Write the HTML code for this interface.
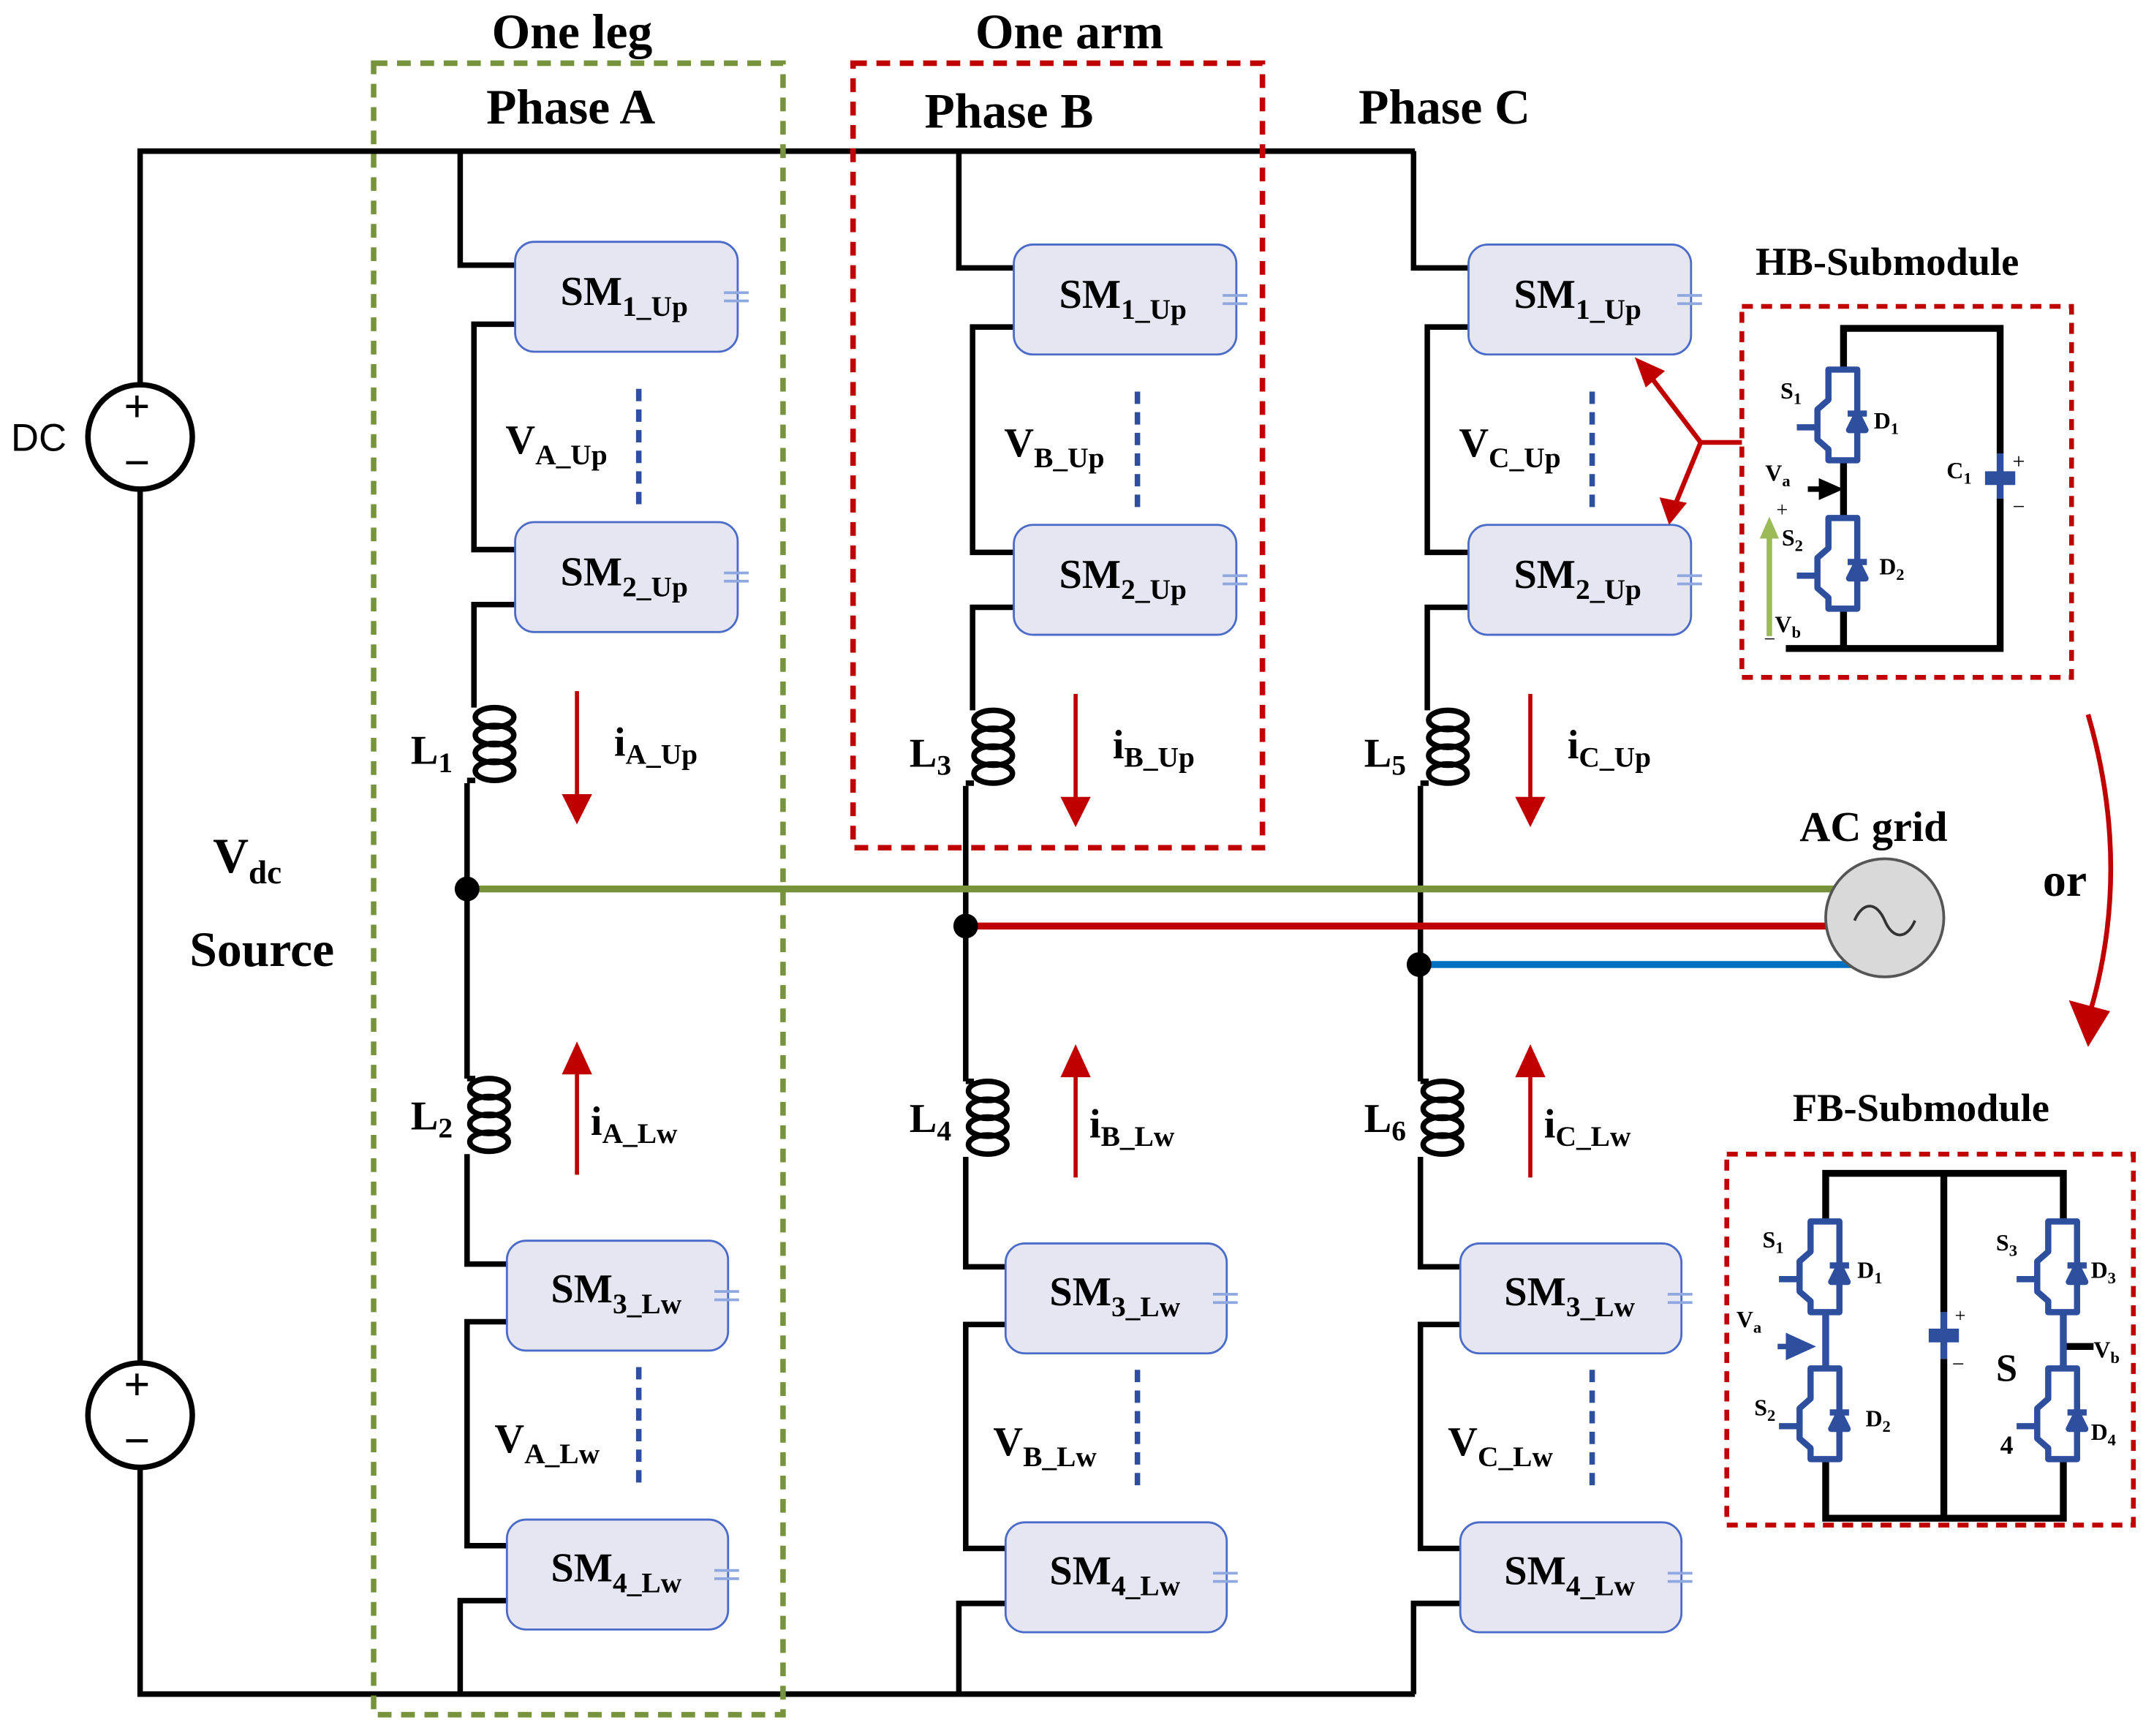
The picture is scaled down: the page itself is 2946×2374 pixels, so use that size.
<!DOCTYPE html>
<html><head><meta charset="utf-8"><style>html,body{margin:0;padding:0;background:#fff}svg{display:block}
text{font-family:"Liberation Serif",serif;font-weight:bold;fill:#000}</style></head><body>
<svg width="2946" height="2374" viewBox="0 0 1568 1263.5" preserveAspectRatio="none" xmlns="http://www.w3.org/2000/svg">
<defs>
<g id="igbt" fill="none" stroke="#2e4f9e" stroke-width="4.5" stroke-linejoin="round">
<path d="M-11,0 H10 V66 H-11 V58 L-19,51 V29 L-11,22 Z"/>
<path d="M-34,42 H-19"/>
<path d="M4,44 L10,32 L16,44 Z M3,32 H17" fill="#2e4f9e"/>
</g>
<g id="sm1">
</g>
</defs>
<rect width="1568" height="1264" fill="#fff"/>
<g stroke="#000" stroke-width="4" fill="none">
<path d="M102,280 V110 H1030 M102,356 V992 M102,1068 V1233 H1030"/>
</g>
<circle cx="102" cy="318" r="38" fill="#fff" stroke="#000" stroke-width="4"/>
<circle cx="102" cy="1030" r="38" fill="#fff" stroke="#000" stroke-width="4"/>
<text x="90" y="307" font-size="34">+</text><text x="90" y="348" font-size="34">−</text>
<text x="90" y="1019" font-size="34">+</text><text x="90" y="1060" font-size="34">−</text>
<text x="8" y="328" font-size="28" style="font-family:'Liberation Sans',sans-serif;font-weight:normal">DC</text>
<text x="155" y="635" font-size="36">V<tspan font-size="24" dy="8">dc</tspan></text>
<text x="138" y="703" font-size="36">Source</text>

<!-- phase groups -->
<g id="phA">
<g stroke="#000" stroke-width="4" fill="none">
<path d="M335,110 V193 H375 M375,236 H345 V400 H375 M375,440 H345 V515 M340,570 V785 M340,840 V920 H369 M369,962 H340 V1125 H369 M369,1165 H335 V1233"/>
<ellipse cx="360" cy="522" rx="14" ry="7"/><ellipse cx="360" cy="535" rx="14" ry="7"/><ellipse cx="360" cy="548" rx="14" ry="7"/><ellipse cx="360" cy="561" rx="14" ry="7"/>
<path d="M346,568 H340"/>
<path d="M340,785 H346"/>
<ellipse cx="356" cy="792" rx="14" ry="7"/><ellipse cx="356" cy="805" rx="14" ry="7"/><ellipse cx="356" cy="818" rx="14" ry="7"/><ellipse cx="356" cy="831" rx="14" ry="7"/>
</g>
<g fill="#e6e6f2" stroke="#4a6bc8" stroke-width="1.5">
<rect x="375" y="176" width="162" height="80" rx="14"/><rect x="375" y="380" width="162" height="80" rx="14"/>
<rect x="369" y="903" width="161" height="80" rx="14"/><rect x="369" y="1106" width="161" height="80" rx="14"/>
</g>
<g stroke="#8fa8e0" stroke-width="2"><path d="M527,213h18M527,219h18M527,417h18M527,423h18M520,940h18M520,946h18M520,1143h18M520,1149h18"/></g>
<g stroke="#2e4f9e" stroke-width="4" stroke-dasharray="9,6"><path d="M465,283V368M465,995V1080"/></g>
<path d="M420,503V582" stroke="#c00000" stroke-width="3"/><path d="M409,578 L420,600 L431,578Z" fill="#c00000"/>
<path d="M420,855V778" stroke="#c00000" stroke-width="3"/><path d="M409,782 L420,758 L431,782Z" fill="#c00000"/>
<text x="408" y="222" font-size="30">SM<tspan font-size="21" dy="8">1_Up</tspan></text>
<text x="408" y="426" font-size="30">SM<tspan font-size="21" dy="8">2_Up</tspan></text>
<text x="401" y="948" font-size="30">SM<tspan font-size="21" dy="8">3_Lw</tspan></text>
<text x="401" y="1151" font-size="30">SM<tspan font-size="21" dy="8">4_Lw</tspan></text>
<text x="368" y="330" font-size="30">V<tspan font-size="21" dy="8">A_Up</tspan></text>
<text x="360" y="1057" font-size="30">V<tspan font-size="21" dy="8">A_Lw</tspan></text>
<text x="447" y="550" font-size="30">i<tspan font-size="21" dy="6">A_Up</tspan></text>
<text x="430" y="826" font-size="30">i<tspan font-size="21" dy="6">A_Lw</tspan></text>
<text x="299" y="556" font-size="30">L<tspan font-size="21" dy="6">1</tspan></text>
<text x="299" y="822" font-size="30">L<tspan font-size="21" dy="6">2</tspan></text>
</g>

<g transform="translate(363,2)">
<g stroke="#000" stroke-width="4" fill="none">
<path d="M335,108 V193 H375 M375,236 H345 V400 H375 M375,440 H345 V515 M340,570 V785 M340,840 V920 H369 M369,962 H340 V1125 H369 M369,1165 H335 V1231"/>
<ellipse cx="360" cy="522" rx="14" ry="7"/><ellipse cx="360" cy="535" rx="14" ry="7"/><ellipse cx="360" cy="548" rx="14" ry="7"/><ellipse cx="360" cy="561" rx="14" ry="7"/>
<path d="M346,568 H340"/><path d="M340,785 H346"/>
<ellipse cx="356" cy="792" rx="14" ry="7"/><ellipse cx="356" cy="805" rx="14" ry="7"/><ellipse cx="356" cy="818" rx="14" ry="7"/><ellipse cx="356" cy="831" rx="14" ry="7"/>
</g>
<g fill="#e6e6f2" stroke="#4a6bc8" stroke-width="1.5">
<rect x="375" y="176" width="162" height="80" rx="14"/><rect x="375" y="380" width="162" height="80" rx="14"/>
<rect x="369" y="903" width="161" height="80" rx="14"/><rect x="369" y="1106" width="161" height="80" rx="14"/>
</g>
<g stroke="#8fa8e0" stroke-width="2"><path d="M527,213h18M527,219h18M527,417h18M527,423h18M520,940h18M520,946h18M520,1143h18M520,1149h18"/></g>
<g stroke="#2e4f9e" stroke-width="4" stroke-dasharray="9,6"><path d="M465,283V368M465,995V1080"/></g>
<path d="M420,503V582" stroke="#c00000" stroke-width="3"/><path d="M409,578 L420,600 L431,578Z" fill="#c00000"/>
<path d="M420,855V778" stroke="#c00000" stroke-width="3"/><path d="M409,782 L420,758 L431,782Z" fill="#c00000"/>
<text x="408" y="222" font-size="30">SM<tspan font-size="21" dy="8">1_Up</tspan></text>
<text x="408" y="426" font-size="30">SM<tspan font-size="21" dy="8">2_Up</tspan></text>
<text x="401" y="948" font-size="30">SM<tspan font-size="21" dy="8">3_Lw</tspan></text>
<text x="401" y="1151" font-size="30">SM<tspan font-size="21" dy="8">4_Lw</tspan></text>
<text x="368" y="330" font-size="30">V<tspan font-size="21" dy="8">B_Up</tspan></text>
<text x="360" y="1057" font-size="30">V<tspan font-size="21" dy="8">B_Lw</tspan></text>
<text x="447" y="550" font-size="30">i<tspan font-size="21" dy="6">B_Up</tspan></text>
<text x="430" y="826" font-size="30">i<tspan font-size="21" dy="6">B_Lw</tspan></text>
<text x="299" y="556" font-size="30">L<tspan font-size="21" dy="6">3</tspan></text>
<text x="299" y="822" font-size="30">L<tspan font-size="21" dy="6">4</tspan></text>
</g>

<g transform="translate(694,2)">
<g stroke="#000" stroke-width="4" fill="none">
<path d="M335,108 V193 H375 M375,236 H345 V400 H375 M375,440 H345 V515 M340,570 V785 M340,840 V920 H369 M369,962 H340 V1125 H369 M369,1165 H335 V1231"/>
<ellipse cx="360" cy="522" rx="14" ry="7"/><ellipse cx="360" cy="535" rx="14" ry="7"/><ellipse cx="360" cy="548" rx="14" ry="7"/><ellipse cx="360" cy="561" rx="14" ry="7"/>
<path d="M346,568 H340"/><path d="M340,785 H346"/>
<ellipse cx="356" cy="792" rx="14" ry="7"/><ellipse cx="356" cy="805" rx="14" ry="7"/><ellipse cx="356" cy="818" rx="14" ry="7"/><ellipse cx="356" cy="831" rx="14" ry="7"/>
</g>
<g fill="#e6e6f2" stroke="#4a6bc8" stroke-width="1.5">
<rect x="375" y="176" width="162" height="80" rx="14"/><rect x="375" y="380" width="162" height="80" rx="14"/>
<rect x="369" y="903" width="161" height="80" rx="14"/><rect x="369" y="1106" width="161" height="80" rx="14"/>
</g>
<g stroke="#8fa8e0" stroke-width="2"><path d="M527,213h18M527,219h18M527,417h18M527,423h18M520,940h18M520,946h18M520,1143h18M520,1149h18"/></g>
<g stroke="#2e4f9e" stroke-width="4" stroke-dasharray="9,6"><path d="M465,283V368M465,995V1080"/></g>
<path d="M420,503V582" stroke="#c00000" stroke-width="3"/><path d="M409,578 L420,600 L431,578Z" fill="#c00000"/>
<path d="M420,855V778" stroke="#c00000" stroke-width="3"/><path d="M409,782 L420,758 L431,782Z" fill="#c00000"/>
<text x="408" y="222" font-size="30">SM<tspan font-size="21" dy="8">1_Up</tspan></text>
<text x="408" y="426" font-size="30">SM<tspan font-size="21" dy="8">2_Up</tspan></text>
<text x="401" y="948" font-size="30">SM<tspan font-size="21" dy="8">3_Lw</tspan></text>
<text x="401" y="1151" font-size="30">SM<tspan font-size="21" dy="8">4_Lw</tspan></text>
<text x="368" y="330" font-size="30">V<tspan font-size="21" dy="8">C_Up</tspan></text>
<text x="360" y="1057" font-size="30">V<tspan font-size="21" dy="8">C_Lw</tspan></text>
<text x="447" y="550" font-size="30">i<tspan font-size="21" dy="6">C_Up</tspan></text>
<text x="430" y="826" font-size="30">i<tspan font-size="21" dy="6">C_Lw</tspan></text>
<text x="299" y="556" font-size="30">L<tspan font-size="21" dy="6">5</tspan></text>
<text x="299" y="822" font-size="30">L<tspan font-size="21" dy="6">6</tspan></text>
</g>

<!-- AC lines -->
<path d="M340,647 H1335" stroke="#77933c" stroke-width="5"/>
<path d="M703,674 H1335" stroke="#c00000" stroke-width="5"/>
<path d="M1033,702 H1348" stroke="#0070c0" stroke-width="5"/>
<circle cx="340" cy="647" r="9" fill="#000"/><circle cx="703" cy="674" r="9" fill="#000"/><circle cx="1033" cy="702" r="9" fill="#000"/>
<circle cx="1372" cy="668" r="43" fill="#d9d9d9" stroke="#555" stroke-width="2"/>
<path d="M1350,670 c6,-14 16,-14 22,0 c6,14 16,14 22,0" fill="none" stroke="#333" stroke-width="2"/>
<text x="1310" y="612" font-size="31">AC grid</text>
<text x="1487" y="652" font-size="34">or</text>

<!-- dashed boxes -->
<rect x="272" y="46" width="298" height="1202" fill="none" stroke="#77933c" stroke-width="4" stroke-dasharray="10,7"/>
<rect x="621" y="46" width="298" height="571" fill="none" stroke="#c00000" stroke-width="4" stroke-dasharray="10,7"/>
<text x="358" y="35" font-size="36">One leg</text>
<text x="354" y="90" font-size="36">Phase A</text>
<text x="710" y="35" font-size="36">One arm</text>
<text x="673" y="93" font-size="36">Phase B</text>
<text x="989" y="90" font-size="36">Phase C</text>

<!-- HB submodule -->
<text x="1278" y="200" font-size="29">HB-Submodule</text>
<rect x="1268" y="223" width="240" height="270" fill="none" stroke="#c00000" stroke-width="3.5" stroke-dasharray="8,6"/>
<g stroke="#000" stroke-width="5" fill="none">
<path d="M1342,269 V239 H1456 V330 M1456,363 V472 H1300 M1342,472 V443 M1342,336 V376"/>
</g>
<use href="#igbt" x="1342" y="269"/><use href="#igbt" x="1342" y="377"/>
<path d="M1456,330 V363" stroke="#2e4f9e" stroke-width="5"/>
<rect x="1445" y="343" width="22" height="10" fill="#2e4f9e"/>
<text x="1465" y="341" font-size="16" style="font-weight:normal">+</text><text x="1465" y="374" font-size="16" style="font-weight:normal">−</text>
<path d="M1316,356 H1330" stroke="#000" stroke-width="4"/><path d="M1324,348 L1342,356 L1324,364Z" fill="#000"/>
<path d="M1288,463 V392" stroke="#9bbb59" stroke-width="4"/><path d="M1281,392 L1288,376 L1295,392Z" fill="#9bbb59"/>
<text x="1296" y="290" font-size="17">S<tspan font-size="12" dy="4">1</tspan></text>
<text x="1364" y="312" font-size="17">D<tspan font-size="12" dy="4">1</tspan></text>
<text x="1285" y="350" font-size="17">V<tspan font-size="12" dy="4">a</tspan></text>
<text x="1293" y="376" font-size="15" style="font-weight:normal">+</text>
<text x="1297" y="397" font-size="17">S<tspan font-size="12" dy="4">2</tspan></text>
<text x="1368" y="418" font-size="17">D<tspan font-size="12" dy="4">2</tspan></text>
<text x="1292" y="460" font-size="17">V<tspan font-size="12" dy="4">b</tspan></text>
<text x="1284" y="470" font-size="15" style="font-weight:normal">−</text>
<text x="1417" y="348" font-size="17">C<tspan font-size="12" dy="4">1</tspan></text>
<!-- red pointer arrows -->
<path d="M1268,322 H1238 L1203,276 M1238,322 L1220,366" stroke="#c00000" stroke-width="3.5" fill="none"/>
<path d="M1190,260 L1212,270 L1198,282Z" fill="#c00000"/>
<path d="M1215,382 L1208,362 L1228,366Z" fill="#c00000"/>
<path d="M1520,520 Q1552,630 1522,735" stroke="#c00000" stroke-width="3.5" fill="none"/>
<path d="M1506,728 L1520,762 L1536,736Z" fill="#c00000"/>

<!-- FB submodule -->
<text x="1305" y="816" font-size="29">FB-Submodule</text>
<rect x="1257" y="840" width="296" height="270" fill="none" stroke="#c00000" stroke-width="3.5" stroke-dasharray="8,6"/>
<g stroke="#000" stroke-width="5" fill="none">
<path d="M1329,889 V854 H1502 V889 M1329,1062 V1105 H1502 V1062 M1415,854 V955 M1415,989 V1105 M1502,980 H1524"/>
</g>
<g stroke="#2e4f9e" stroke-width="5"><path d="M1329,955 V996 M1502,955 V996 M1415,955 V989"/></g>
<use href="#igbt" x="1329" y="889"/><use href="#igbt" x="1329" y="996"/>
<use href="#igbt" x="1502" y="889"/><use href="#igbt" x="1502" y="996"/>
<rect x="1404" y="967" width="22" height="10" fill="#2e4f9e"/>
<path d="M1294,980 H1312" stroke="#2e4f9e" stroke-width="4"/><path d="M1300,970 L1322,980 L1300,990Z" fill="#2e4f9e"/>
<text x="1423" y="962" font-size="14" style="font-weight:normal">+</text><text x="1421" y="998" font-size="16" style="font-weight:normal">−</text>
<text x="1283" y="908" font-size="17">S<tspan font-size="12" dy="4">1</tspan></text>
<text x="1352" y="930" font-size="17">D<tspan font-size="12" dy="4">1</tspan></text>
<text x="1264" y="966" font-size="17">V<tspan font-size="12" dy="4">a</tspan></text>
<text x="1277" y="1030" font-size="17">S<tspan font-size="12" dy="4">2</tspan></text>
<text x="1358" y="1038" font-size="17">D<tspan font-size="12" dy="4">2</tspan></text>
<text x="1453" y="910" font-size="17">S<tspan font-size="12" dy="4">3</tspan></text>
<text x="1522" y="930" font-size="17">D<tspan font-size="12" dy="4">3</tspan></text>
<text x="1524" y="988" font-size="17">V<tspan font-size="12" dy="4">b</tspan></text>
<text x="1453" y="1005" font-size="28">S</text>
<text x="1456" y="1058" font-size="19">4</text>
<text x="1522" y="1048" font-size="17">D<tspan font-size="12" dy="4">4</tspan></text>
</svg>
</body></html>
